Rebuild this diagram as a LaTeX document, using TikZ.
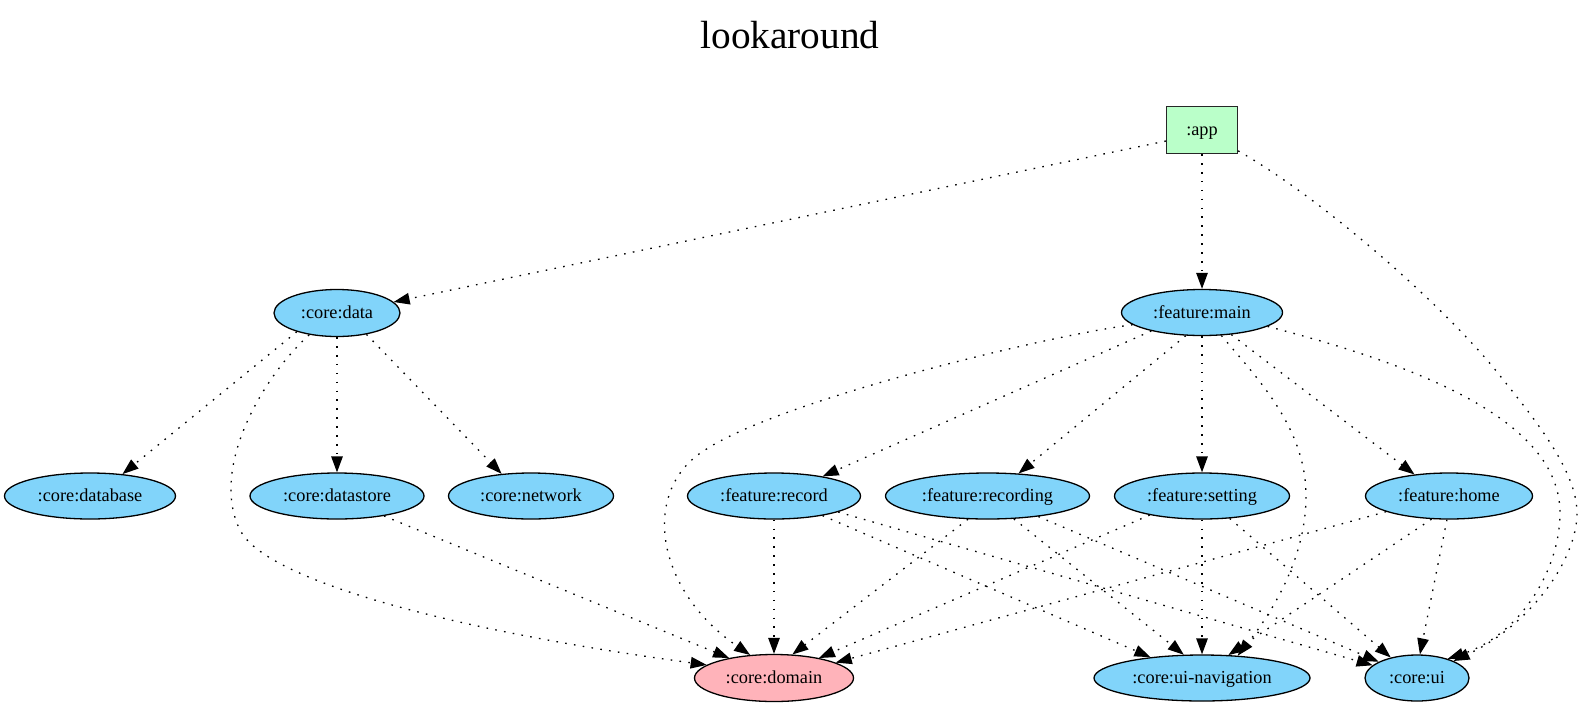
\documentclass[tikz,border=0pt]{standalone}
\usepackage{fontspec}
\setmainfont{Liberation Serif}
\usetikzlibrary{shapes.geometric,arrows.meta}
\definecolor{libblue}{HTML}{81D4FA}
\definecolor{jvmpink}{HTML}{FFB3BA}
\definecolor{appgreen}{HTML}{BAFFC9}
\begin{document}
\begin{tikzpicture}[x=1pt,y=-1pt,
  mod/.style={ellipse,draw=black,line width=1.3pt,fill=libblue,inner sep=0pt,minimum height=46pt,text height=13pt,text depth=1.6pt,font=\fontsize{18.3}{22}\selectfont},
  jvm/.style={mod,fill=jvmpink},
  appbox/.style={rectangle,draw=black!85,line width=1.3pt,fill=appgreen,inner sep=0pt,minimum width=71pt,minimum height=47pt,text height=13pt,text depth=1.6pt,font=\fontsize{18.3}{22}\selectfont},
  dep/.style={draw=black,line width=1.3pt,dash pattern=on 1.6pt off 7.3pt,-{Triangle[length=16pt,width=11.5pt]}},
  titlestyle/.style={font=\fontsize{39.3}{45}\selectfont,anchor=base,inner sep=0pt}
]
\useasboundingbox (0,0) rectangle (1581,707);
\node[titlestyle] (title) at (790,48) {lookaround};

\node[appbox] (app) at (1202,130) {:app};
\node[mod, minimum width=161pt] (main) at (1202,312.5) {:feature:main};
\node[mod, minimum width=126pt, minimum height=47pt] (data) at (337,313) {:core:data};
\node[mod, minimum width=171pt] (database) at (90,496) {:core:database};
\node[mod, minimum width=174pt] (datastore) at (337,496) {:core:datastore};
\node[mod, minimum width=165pt] (network) at (531,496) {:core:network};
\node[mod, minimum width=173pt] (record) at (774,496) {:feature:record};
\node[mod, minimum width=204pt] (recording) at (987.5,496) {:feature:recording};
\node[mod, minimum width=175pt] (setting) at (1202,496) {:feature:setting};
\node[mod, minimum width=167pt] (home) at (1449,496) {:feature:home};
\node[jvm, minimum width=159pt, minimum height=47pt] (domain) at (774,678) {:core:domain};
\node[mod, minimum width=216pt] (nav) at (1202,678) {:core:ui-navigation};
\node[mod, minimum width=104pt] (ui) at (1417,678) {:core:ui};

% from :app
\draw[dep] (app.197) -- (data.11);
\draw[dep] (app.south) -- (main.north);
\draw[dep] (app.-30) .. controls (1328,202) and (1452,314) .. (1501,377)
  .. controls (1532,416) and (1577,470) .. (1577,513)
  .. controls (1577,560) and (1530,625) .. (ui.25);

% from :core:data
\draw[dep] (data.205) -- (database.34);
\draw[dep] (data.south) -- (datastore.north);
\draw[dep] (data.324) -- (network.143);
\draw[dep] (data.218) .. controls (260,380) and (210,470) .. (240,530)
  .. controls (265,580) and (450,630) .. (domain.169);

% from :core:datastore
\draw[dep] (datastore.337) -- (domain.156);

% from :feature:main
\draw[dep] (main.190) .. controls (1050,335) and (780,400) .. (705,450)
  .. controls (640,490) and (655,590) .. (domain.136);
\draw[dep] (main.200) -- (record.22);
\draw[dep] (main.235) -- (recording.36);
\draw[dep] (main.south) -- (setting.north);
\draw[dep] (main.323) -- (home.148);
\draw[dep] (main.310) .. controls (1261,382) and (1306,430) .. (1306,496)
  .. controls (1306,560) and (1270,615) .. (nav.32);
\draw[dep] (main.-12) .. controls (1417,365) and (1560,420) .. (1560,513)
  .. controls (1560,570) and (1520,635) .. (ui.32);

% from :feature:record
\draw[dep] (record.south) -- (domain.north);
\draw[dep] (record.338) -- (nav.158);
\draw[dep] (record.346) -- (ui.164);

% from :feature:recording
\draw[dep] (recording.230) -- (domain.52);
\draw[dep] (recording.319) -- (nav.128);
\draw[dep] (recording.338) -- (ui.157);

% from :feature:setting
\draw[dep] (setting.200) -- (domain.24);
\draw[dep] (setting.south) -- (nav.north);
\draw[dep] (setting.321) -- (ui.142);

% from :feature:home
\draw[dep] (home.194) -- (domain.14);
\draw[dep] (home.233) -- (nav.41);
\draw[dep] (home.265) -- (ui.83);
\end{tikzpicture}
\end{document}
